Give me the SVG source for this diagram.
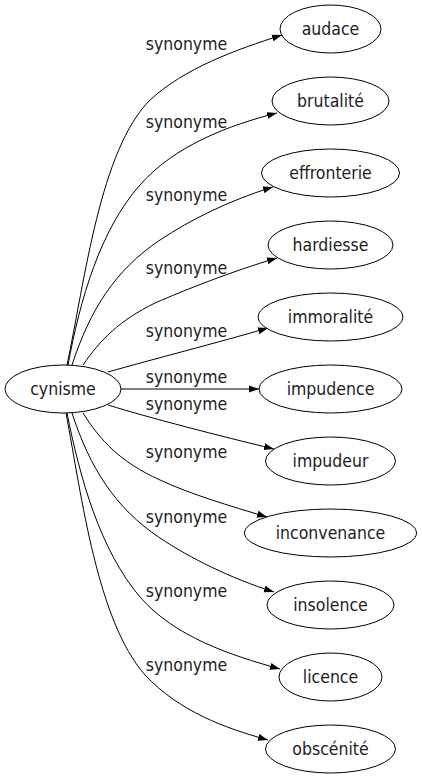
<svg xmlns="http://www.w3.org/2000/svg" width="422" height="779" viewBox="0 0 422 779">
<style>
.n ellipse{fill:#fff;stroke:#000;stroke-width:1}
text{font-family:"DejaVu Sans Condensed","DejaVu Sans",sans-serif;font-stretch:condensed;font-size:17.5px;fill:#222;text-anchor:middle}
.e path{fill:none;stroke:#000;stroke-width:1;marker-end:url(#ah)}
</style>
<defs>
<marker id="ah" markerUnits="userSpaceOnUse" markerWidth="10" markerHeight="8" refX="10" refY="3.5" orient="auto" viewBox="0 0 10 7">
<path d="M0,0 L10,3.5 L0,7 z" fill="#000"/>
</marker>
</defs>
<rect width="422" height="779" fill="#fff"/>
<g id="edges" class="e">
<path d="M67,365 C85,280 100,150 150,100 C185,68 235,50 282,35"/>
<path d="M68,365 C80,300 100,230 140,185 C175,145 230,125 277,113"/>
<path d="M72,365 C90,310 115,270 160,240 C190,220 230,200 273,187"/>
<path d="M83,365 C100,340 120,320 155,303 C185,290 230,272 277,258"/>
<path d="M108,372 C150,360 220,342 268,328"/>
<path d="M121,389 L259,389"/>
<path d="M108,405 C150,418 220,436 274,449"/>
<path d="M83,413 C100,440 120,462 160,480 C190,494 230,506 267,517"/>
<path d="M72,413 C90,468 115,508 160,538 C190,558 230,578 274,592"/>
<path d="M67,413 C80,478 100,550 140,597 C175,637 230,655 280,669"/>
<path d="M66,413 C82,498 97,620 145,675 C180,712 225,728 268,740"/>
</g>
<g id="edge-labels">
<text x="186.5" y="50">synonyme</text>
<text x="186.5" y="127.5">synonyme</text>
<text x="186.5" y="201">synonyme</text>
<text x="186.5" y="274">synonyme</text>
<text x="186.5" y="336.5">synonyme</text>
<text x="186.5" y="383">synonyme</text>
<text x="186.5" y="410">synonyme</text>
<text x="186.5" y="458">synonyme</text>
<text x="186.5" y="523">synonyme</text>
<text x="186.5" y="597">synonyme</text>
<text x="186.5" y="671">synonyme</text>
</g>
<g id="cynisme" class="n"><ellipse cx="63" cy="389" rx="58" ry="24"/><text x="63" y="395">cynisme</text></g>
<g id="audace" class="n"><ellipse cx="330.5" cy="29" rx="50.5" ry="24"/><text x="330.5" y="35">audace</text></g>
<g id="brutalite" class="n"><ellipse cx="330.5" cy="101" rx="58.5" ry="24"/><text x="330.5" y="107">brutalité</text></g>
<g id="effronterie" class="n"><ellipse cx="330.5" cy="173" rx="69" ry="24"/><text x="330.5" y="179">effronterie</text></g>
<g id="hardiesse" class="n"><ellipse cx="330.5" cy="245" rx="62.5" ry="24"/><text x="330.5" y="251">hardiesse</text></g>
<g id="immoralite" class="n"><ellipse cx="330.5" cy="317" rx="72.5" ry="24"/><text x="330.5" y="323">immoralité</text></g>
<g id="impudence" class="n"><ellipse cx="330.5" cy="389" rx="71.5" ry="24"/><text x="330.5" y="395">impudence</text></g>
<g id="impudeur" class="n"><ellipse cx="330.5" cy="461" rx="65" ry="24"/><text x="330.5" y="467">impudeur</text></g>
<g id="inconvenance" class="n"><ellipse cx="330.5" cy="533" rx="86" ry="24"/><text x="330.5" y="539">inconvenance</text></g>
<g id="insolence" class="n"><ellipse cx="330.5" cy="605" rx="63.5" ry="24"/><text x="330.5" y="611">insolence</text></g>
<g id="licence" class="n"><ellipse cx="330.5" cy="677" rx="51.5" ry="24"/><text x="330.5" y="683">licence</text></g>
<g id="obscenite" class="n"><ellipse cx="330.5" cy="749" rx="65" ry="24"/><text x="330.5" y="755">obscénité</text></g>
</svg>
